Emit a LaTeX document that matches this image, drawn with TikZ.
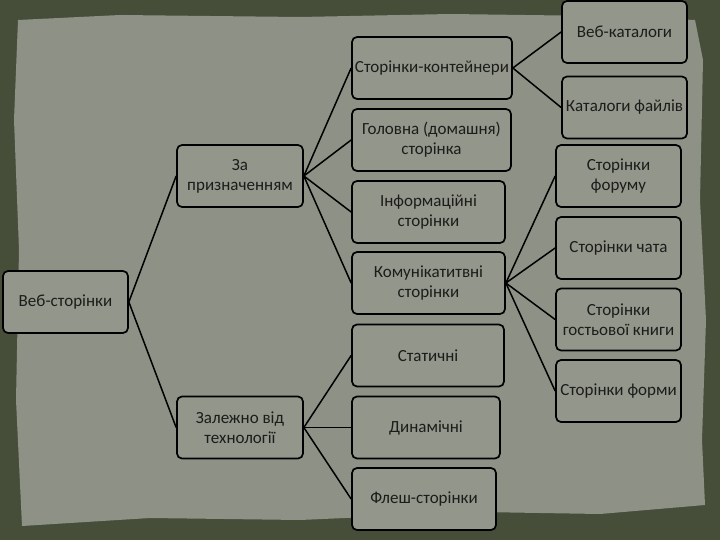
\documentclass[tikz,border=0pt]{standalone}
\usepackage{fontspec}
\setmainfont{Carlito}
\usetikzlibrary{positioning}
\definecolor{frame}{RGB}{70,78,58}
\definecolor{paper}{RGB}{141,145,134}
\definecolor{boxfill}{RGB}{146,150,139}
\definecolor{ink}{RGB}{28,28,26}

\begin{document}
\begin{tikzpicture}[x=1pt, y=-1pt,
    box/.style={draw=black, line width=1.7pt, rounded corners=5pt, fill=boxfill,
      text=ink, align=center, inner sep=1pt, minimum height=62pt,
      font=\fontsize{17}{20}\selectfont},
    link/.style={line width=1.5pt, black}]

      \useasboundingbox (0,0) rectangle (720,540);
      % background
      \fill[frame] (0,0) rectangle (720,540);
      \fill[paper] (18,20) -- (120,15) -- (300,17) -- (450,14) -- (600,16)
        -- (695,20) -- (703,60) -- (700,200) -- (706,320) -- (702,440)
        -- (705,505) -- (600,514) -- (480,512) -- (300,520) -- (150,518)
        -- (22,526) -- (16,400) -- (19,250) -- (14,120) -- cycle;

      % first level
      \node[box, minimum width=125pt] (web) at (65.5,302) {Веб-сторінки};
      \node[box, minimum width=126pt] (purpose) at (240,176) {За\\призначенням};
      \node[box, minimum width=126pt] (techno) at (240,427.5) {Залежно від\\технології};

      % second level
      \node[box, minimum width=160pt] (container) at (432,68) {Сторінки-контейнери};
      \node[box, minimum width=159pt] (home) at (431.5,140) {Головна (домашня)\\сторінка};
      \node[box, minimum width=153pt] (info) at (428.5,212) {Інформаційні\\сторінки};
      \node[box, minimum width=153pt] (commun) at (428.5,283) {Комунікатитвні\\сторінки};
      \node[box, minimum width=152pt] (static) at (428,355.5) {Статичні};
      \node[box, minimum width=148pt] (dynamic) at (426,427.5) {Динамічні};
      \node[box, minimum width=144pt] (flash) at (424,499) {Флеш-сторінки};

      % third level
      \node[box, minimum width=125pt] (webcat) at (624.5,32) {Веб-каталоги};
      \node[box, minimum width=125pt] (filecat) at (624.5,107.5) {Каталоги файлів};
      \node[box, minimum width=125pt] (forum) at (618.5,176) {Сторінки\\форуму};
      \node[box, minimum width=125pt] (chat) at (618.5,248) {Сторінки чата};
      \node[box, minimum width=125pt] (guest) at (618.5,319.5) {Сторінки\\гостьової книги};
      \node[box, minimum width=125pt] (form) at (618.5,391) {Сторінки форми};

      % connectors
      \draw[link] (web.east) -- (purpose.west);
      \draw[link] (web.east) -- (techno.west);
      \foreach \c in {container,home,info,commun}
        \draw[link] (purpose.east) -- (\c.west);
      \foreach \c in {static,dynamic,flash}
        \draw[link] (techno.east) -- (\c.west);
      \foreach \c in {webcat,filecat}
        \draw[link] (container.east) -- (\c.west);
      \foreach \c in {forum,chat,guest,form}
        \draw[link] (commun.east) -- (\c.west);
    \end{tikzpicture}
\end{document}
